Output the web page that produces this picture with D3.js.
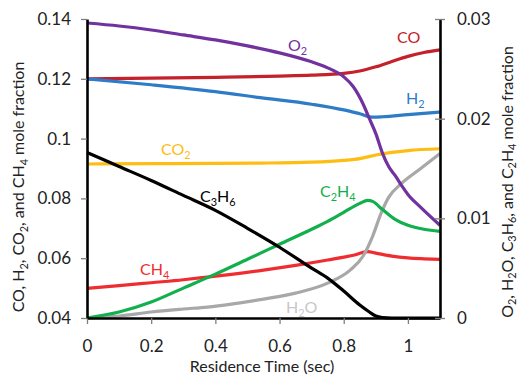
<!DOCTYPE html>
<html>
<head>
<meta charset="utf-8">
<script src="https://cdn.jsdelivr.net/npm/d3@7"></script>
<style>
  html, body { margin: 0; padding: 0; background: #fff; }
  svg { display: block; }
  text { font-family: Lato, "Open Sans", sans-serif; }
</style>
</head>
<body>
<svg id="chart" width="519" height="377"></svg>
<script>
// Residence time (s) sampling for each species profile
const coTime   = [0, 0.2, 0.4, 0.6, 0.7, 0.8, 0.85, 0.9, 0.95, 1.0, 1.05, 1.1];
const coVals   = [0.1200, 0.1202, 0.1205, 0.1209, 0.1212, 0.1218, 0.1226, 0.1240, 0.1258, 0.1275, 0.1288, 0.1297];

const h2Time   = [0, 0.2, 0.4, 0.54, 0.7, 0.8, 0.85, 0.89, 0.92, 1.0, 1.1];
const h2Vals   = [0.1200, 0.1180, 0.1157, 0.1137, 0.1115, 0.1096, 0.1083, 0.1072, 0.1073, 0.1080, 0.1089];

const co2Time  = [0, 0.2, 0.4, 0.54, 0.7, 0.8, 0.85, 0.9, 0.95, 1.0, 1.1];
const co2Vals  = [0.0915, 0.0916, 0.0917, 0.0918, 0.0921, 0.0927, 0.0933, 0.0945, 0.0954, 0.0960, 0.0966];

const ch4Time  = [0, 0.1, 0.2, 0.3, 0.375, 0.45, 0.55, 0.65, 0.75, 0.83, 0.875, 0.9, 0.95, 1.0, 1.05, 1.1];
const ch4Vals  = [0.0499, 0.0508, 0.0518, 0.0528, 0.0537, 0.0546, 0.0560, 0.0576, 0.0594, 0.0610, 0.0622, 0.0617, 0.0607, 0.0601, 0.0598, 0.0596];

const o2Time   = [0, 0.1, 0.2, 0.3, 0.4, 0.5, 0.6, 0.7, 0.75, 0.8, 0.83, 0.86, 0.88, 0.9, 0.92, 0.94, 0.96, 0.98, 1.0, 1.04, 1.1];
const o2Vals   = [0.0296, 0.0293, 0.0289, 0.0284, 0.0279, 0.0273, 0.0266, 0.0257, 0.0251, 0.0242, 0.0232, 0.0215, 0.0200, 0.0185, 0.0166, 0.0152, 0.0143, 0.0133, 0.0124, 0.0111, 0.0093];

const h2oTime  = [0, 0.1, 0.2, 0.3, 0.375, 0.45, 0.55, 0.65, 0.75, 0.82, 0.86, 0.89, 0.915, 0.94, 0.98, 1.04, 1.1];
const h2oVals  = [0, 0.0002, 0.0006, 0.0009, 0.0011, 0.0014, 0.0019, 0.0025, 0.0035, 0.0048, 0.0062, 0.0082, 0.0104, 0.0121, 0.0135, 0.0150, 0.0165];

const c3h6Time = [0, 0.1, 0.2, 0.3, 0.4, 0.5, 0.6, 0.7, 0.75, 0.8, 0.85, 0.88, 0.9, 0.92, 0.95, 1.0, 1.1];
const c3h6Vals = [0.0166, 0.0152, 0.0138, 0.0123, 0.0108, 0.0090, 0.0071, 0.0050, 0.0040, 0.0027, 0.0013, 0.0006, 0.0002, 0.00005, 0, 0, 0];

const c2h4Time = [0, 0.1, 0.2, 0.3, 0.4, 0.5, 0.6, 0.7, 0.75, 0.8, 0.85, 0.875, 0.89, 0.92, 0.96, 1.0, 1.05, 1.1];
const c2h4Vals = [0, 0.0006, 0.0016, 0.0030, 0.0044, 0.0059, 0.0074, 0.0089, 0.0097, 0.0106, 0.0115, 0.0118, 0.0117, 0.0109, 0.0099, 0.0093, 0.0089, 0.0087];

// Axis ticks
const xTicks      = [0, 0.2, 0.4, 0.6, 0.8, 1];
const leftTicks   = [0.04, 0.06, 0.08, 0.1, 0.12, 0.14];
const rightTicks  = [0, 0.01, 0.02, 0.03];

const svg = d3.select("#chart");

const x  = d3.scaleLinear().domain([0, 1.1]).range([87, 440]);
const yL = d3.scaleLinear().domain([0.04, 0.14]).range([318, 19]);
const yR = d3.scaleLinear().domain([0, 0.03]).range([318, 19]);

const zip = (t, v) => t.map((d, i) => ({ t: d, v: v[i] }));

const series = [
  { name: "co",   t: coTime,   v: coVals,   y: yL, color: "#c4212b" },
  { name: "h2",   t: h2Time,   v: h2Vals,   y: yL, color: "#2e7cc6" },
  { name: "co2",  t: co2Time,  v: co2Vals,  y: yL, color: "#fdbd14" },
  { name: "ch4",  t: ch4Time,  v: ch4Vals,  y: yL, color: "#ef2d30" },
  { name: "h2o",  t: h2oTime,  v: h2oVals,  y: yR, color: "#a8a8a8" },
  { name: "c2h4", t: c2h4Time, v: c2h4Vals, y: yR, color: "#12b04c" },
  { name: "c3h6", t: c3h6Time, v: c3h6Vals, y: yR, color: "#000000" },
  { name: "o2",   t: o2Time,   v: o2Vals,   y: yR, color: "#7132a0" }
];

const plot = svg.append("g");
series.forEach(s => {
  const line = d3.line()
    .x(d => x(d.t))
    .y(d => s.y(d.v))
    .curve(d3.curveMonotoneX);
  plot.append("path")
    .datum(zip(s.t, s.v))
    .attr("fill", "none")
    .attr("stroke", s.color)
    .attr("stroke-width", 3.2)
    .attr("stroke-linejoin", "round")
    .attr("d", line);
});

// Axes
const tickColor = "#7f7f7f";
const fmt = d => String(+d.toFixed(3));

const xAxis = svg.append("g").attr("transform", `translate(0,${yL.range()[0]})`)
  .call(d3.axisBottom(x).tickValues(xTicks).tickFormat(fmt).tickSize(6).tickSizeOuter(0).tickPadding(16));
const lAxis = svg.append("g").attr("transform", `translate(${x.range()[0]},0)`)
  .call(d3.axisLeft(yL).tickValues(leftTicks).tickFormat(fmt).tickSize(6).tickSizeOuter(0).tickPadding(10));
const rAxis = svg.append("g").attr("transform", `translate(${x.range()[1]},0)`)
  .call(d3.axisRight(yR).tickValues(rightTicks).tickFormat(fmt).tickSize(5).tickSizeOuter(0).tickPadding(12));

[xAxis, lAxis, rAxis].forEach(a => {
  a.select(".domain").attr("stroke", "#000").attr("stroke-width", 2.6);
  a.selectAll(".tick line").attr("stroke", tickColor).attr("stroke-width", 1.3);
  a.selectAll(".tick text").attr("fill", "#222").style("font-size", "17px")
    .style("font-family", "Lato, 'Open Sans', sans-serif");
});
rAxis.selectAll(".tick line").attr("x1", -5);

// Text with subscripts: parts are [text, isSub]
function richText(g, parts, size, subShift) {
  const shift = size * (subShift || 0.22);
  let lowered = false;
  parts.forEach(([str, sub]) => {
    const ts = g.append("tspan").text(str);
    if (sub) {
      ts.attr("font-size", size * 0.68).attr("dy", lowered ? 0 : shift);
      lowered = true;
    } else {
      ts.attr("font-size", size).attr("dy", lowered ? -shift : 0);
      lowered = false;
    }
  });
}

function addLabel(parts, px, py, color, size) {
  const t = svg.append("text")
    .attr("x", px).attr("y", py)
    .attr("fill", color);
  richText(t, parts, size);
  return t;
}

// Series labels
addLabel([["O"], ["2", 1]],            288, 51,  "#7132a0", 16);
addLabel([["CO"]],                     397, 43,  "#c4212b", 16);
addLabel([["H"], ["2", 1]],            406, 104, "#2e7cc6", 16);
addLabel([["CO"], ["2", 1]],           161, 155, "#fdbd14", 16);
addLabel([["C"], ["3", 1], ["H"], ["6", 1]], 200, 202, "#000", 16);
addLabel([["C"], ["2", 1], ["H"], ["4", 1]], 320, 197, "#12b04c", 16);
addLabel([["CH"], ["4", 1]],           140, 275, "#ef2d30", 16);
addLabel([["H"], ["2", 1], ["O"]],     286, 313, "#c8c8c8", 16);

// Axis titles
svg.append("text")
  .attr("x", 262).attr("y", 372)
  .attr("text-anchor", "middle").attr("fill", "#222")
  .style("font-size", "16px")
  .text("Residence Time (sec)");

const leftTitle = svg.append("text")
  .attr("transform", "translate(24,187) rotate(-90)")
  .attr("text-anchor", "middle").attr("fill", "#222");
richText(leftTitle, [["CO, H"], ["2", 1], [", CO"], ["2", 1], [", and CH"], ["4", 1], [" mole fraction"]], 16);

const rightTitle = svg.append("text")
  .attr("transform", "translate(513,182) rotate(-90)")
  .attr("text-anchor", "middle").attr("fill", "#222");
richText(rightTitle, [["O"], ["2", 1], [", H"], ["2", 1], ["O, C"], ["3", 1], ["H"], ["6", 1], [", and C"], ["2", 1], ["H"], ["4", 1], [" mole fraction"]], 16, 0.16);
</script>
</body>
</html>
